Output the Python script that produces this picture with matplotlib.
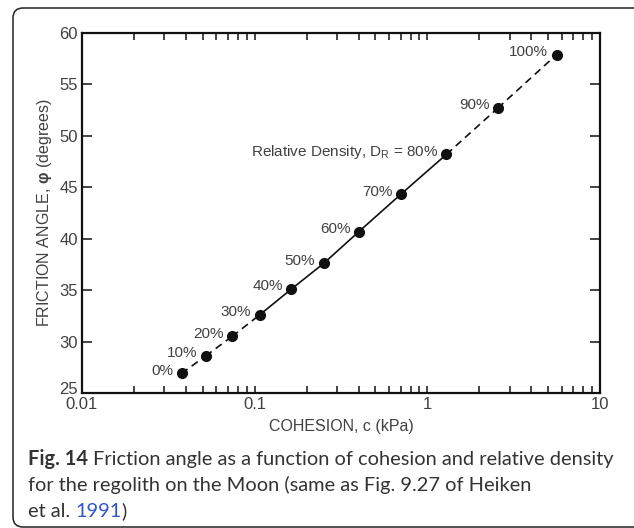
"""Friction angle vs cohesion for lunar regolith (Heiken et al. 1991, Fig. 9.27)."""

import matplotlib
matplotlib.use("Agg")
import matplotlib.pyplot as plt
from matplotlib.patches import FancyBboxPatch
from matplotlib.transforms import IdentityTransform, ScaledTranslation

# data
density_labels = ["0%", "10%", "20%", "30%", "40%", "50%", "60%", "70%",
                  "Relative Density, D$_\\mathrm{R}$ = 80%", "90%", "100%"]
cohesion = [0.0377, 0.052, 0.074, 0.107, 0.163, 0.251, 0.402, 0.70, 1.29, 2.56, 5.6]
friction = [26.9, 28.6, 30.5, 32.6, 35.1, 37.6, 40.7, 44.3, 48.2, 52.7, 57.9]
# which segments are solid (between point i and i+1)
solid = [False, False, False, True, True, True, True, True, False, False]

xticks = [0.01, 0.1, 1, 10]
xticklabels = ["0.01", "0.1", "1", "10"]
yticks = [25, 30, 35, 40, 45, 50, 55, 60]

INK = "#111111"
TXT = "#404040"

plt.rcParams["font.family"] = ["Liberation Sans", "DejaVu Sans"]
plt.rcParams["mathtext.fontset"] = "custom"
plt.rcParams["mathtext.rm"] = "Liberation Sans"
plt.rcParams["mathtext.it"] = "Liberation Sans:italic"
plt.rcParams["mathtext.bf"] = "Liberation Sans:bold"

W, H = 634, 528
fig = plt.figure(figsize=(W / 100, H / 100), dpi=100)
ax = fig.add_axes([82 / W, 1 - 393 / H, (600 - 82) / W, (393 - 33) / H])

for i in range(len(cohesion) - 1):
    ax.plot(cohesion[i:i + 2], friction[i:i + 2], color=INK, lw=1.2,
            ls="-" if solid[i] else (0, (4.5, 3)))
ax.plot(cohesion, friction, "o", color=INK, ms=7, zorder=3)

for lab, x, y in zip(density_labels, cohesion, friction):
    ax.annotate(lab, (x, y), xytext=(-6, 2), textcoords="offset points",
                ha="right", va="center", fontsize=11, color=TXT)

ax.set_xscale("log")
ax.set_xlim(0.01, 10)
ax.set_ylim(25, 60)
ax.set_xticks(xticks)
ax.set_xticklabels(xticklabels)
ax.set_yticks(yticks)
ax.tick_params(which="both", direction="in", top=True, right=True,
               length=5, width=1.1, color=INK, labelsize=12,
               labelcolor=TXT, pad=3)
ax.tick_params(axis="y", length=7)
for s in ax.spines.values():
    s.set_linewidth(1.6)
    s.set_color(INK)

# the bottom "25" sits up and left of "0.01" in the original
fig.canvas.draw()
lab25 = ax.get_yticklabels()[0]
lab25.set_transform(lab25.get_transform() + ScaledTranslation(0, 5 / 100, fig.dpi_scale_trans))

ax.set_xlabel("COHESION, c (kPa)", fontsize=11.5, color=TXT, labelpad=5)
ax.set_ylabel("FRICTION ANGLE, $\\mathbf{φ}$ (degrees)", fontsize=11.5,
              color=TXT, labelpad=4)

# rounded frame around the figure, open to the right
frame = FancyBboxPatch((13, 1), 700, 519, boxstyle="round,pad=0,rounding_size=10",
                       transform=IdentityTransform(), fill=False,
                       ec="#222222", lw=1.1)
fig.patches.append(frame)

# caption, built from pieces so the styles can mix
cap_font = ["Lato", "DejaVu Sans"]
cap_col = "#333333"
renderer = fig.canvas.get_renderer()


def put(x, y, s, **kw):
    t = fig.text(x, y, s, transform=IdentityTransform(), va="baseline",
                 family=cap_font, color=kw.pop("color", cap_col), **kw)
    return t.get_window_extent(renderer).x1


size = 14.4
x = put(28, H - 465, "Fig. 14", fontsize=size, weight="bold")
put(x + 5, H - 465, "Friction angle as a function of cohesion and relative density", fontsize=size)
put(28, H - 491, "for the regolith on the Moon (same as Fig. 9.27 of Heiken", fontsize=size)
x = put(28, H - 517, "et al. ", fontsize=size)
x = put(x, H - 517, "1991", fontsize=size, color="#3355cc")
put(x, H - 517, ")", fontsize=size)

fig.savefig("out.png", dpi=100)
